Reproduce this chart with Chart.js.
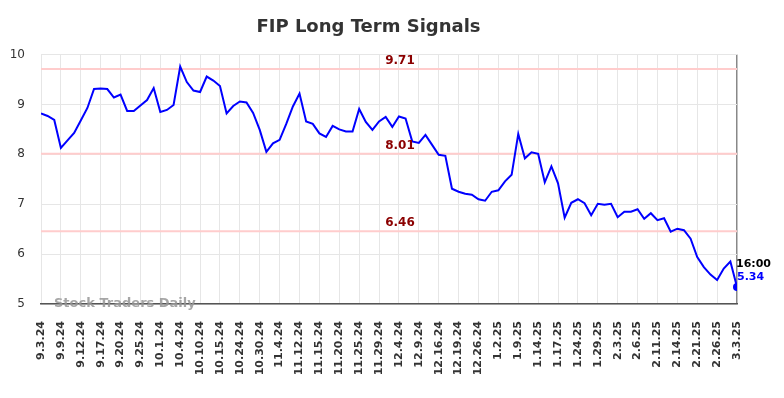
<!DOCTYPE html>
<html>
<head>
<meta charset="utf-8">
<script src="https://cdn.jsdelivr.net/npm/chart.js@4.4.1/dist/chart.umd.min.js"></script>
<style>
    body { margin: 0; background: #ffffff; }
    #wrap { width: 784px; height: 398px; }
</style>
</head>
<body>
<div id="wrap"><canvas id="signal-chart" width="784" height="398"></canvas></div>
<script>
// tick labels, one every third point
const tickLabels = [
    "9.3.24", "9.9.24", "9.12.24", "9.17.24", "9.20.24", "9.25.24",
    "10.1.24", "10.4.24", "10.10.24", "10.15.24", "10.24.24", "10.30.24",
    "11.4.24", "11.12.24", "11.15.24", "11.20.24", "11.25.24", "11.29.24",
    "12.4.24", "12.9.24", "12.16.24", "12.19.24", "12.26.24",
    "1.2.25", "1.9.25", "1.14.25", "1.17.25", "1.24.25", "1.29.25",
    "2.3.25", "2.6.25", "2.11.25", "2.14.25", "2.21.25", "2.26.25",
    "3.3.25"
];
const pointsPerTick = 3;

// price series
const signalValues = [
    8.82, 8.77, 8.69, 8.13, 8.28, 8.43, 8.68, 8.93, 9.31, 9.32,
    9.31, 9.14, 9.20, 8.87, 8.87, 8.98, 9.09, 9.33, 8.85, 8.89,
    8.99, 9.76, 9.45, 9.28, 9.25, 9.56, 9.48, 9.37, 8.82, 8.97,
    9.06, 9.04, 8.83, 8.49, 8.05, 8.22, 8.29, 8.61, 8.96, 9.22,
    8.66, 8.61, 8.42, 8.35, 8.57, 8.50, 8.46, 8.46, 8.91, 8.65,
    8.49, 8.66, 8.75, 8.55, 8.76, 8.72, 8.26, 8.23, 8.39, 8.19,
    7.99, 7.97, 7.31, 7.25, 7.21, 7.19, 7.10, 7.07, 7.25, 7.28,
    7.46, 7.59, 8.41, 7.92, 8.04, 8.01, 7.44, 7.76, 7.42, 6.73,
    7.03, 7.10, 7.02, 6.78, 7.01, 6.99, 7.01, 6.74, 6.85, 6.85,
    6.90, 6.71, 6.82, 6.68, 6.72, 6.45, 6.51, 6.48, 6.31, 5.94,
    5.74, 5.59, 5.48, 5.71, 5.85, 5.34
];

// signal levels
const levelValues = [9.71, 8.01, 6.46];

const lastTime = "16:00";
const yTicks = [5, 6, 7, 8, 9, 10];

let last_index = signalValues.length - 1;
let font_family = "'DejaVu Sans', sans-serif";

let signalData = signalValues.map((v, i) => ({ x: i, y: v }));

let levelSets = levelValues.map((lv) => ({
    data: [{ x: 0, y: lv }, { x: last_index, y: lv }],
    borderColor: "#ffcccc",
    borderWidth: 2,
    pointRadius: 0,
    order: 2
}));

const labelPlugin = {
    id: "labels",
    afterDraw(chart) {
        const ctx = chart.ctx;
        const xs = chart.scales.x;
        const ys = chart.scales.y;
        const area = chart.chartArea;

        ctx.save();
        // level labels
        ctx.font = "bold 12px " + font_family;
        ctx.fillStyle = "#8b0000";
        ctx.textAlign = "center";
        ctx.textBaseline = "middle";
        let mid = (area.left + area.right) / 2 + 11;
        for (let lv of levelValues) {
            ctx.fillText(lv.toFixed(2), mid, ys.getPixelForValue(lv) - 8);
        }

        // last point labels
        let px = xs.getPixelForValue(last_index);
        let py = ys.getPixelForValue(signalValues[last_index]);
        ctx.textAlign = "left";
        ctx.font = "bold 11px " + font_family;
        ctx.fillStyle = "#000000";
        ctx.fillText(lastTime, px - 1, py - 23);
        ctx.fillStyle = "#0000ff";
        ctx.fillText(signalValues[last_index].toFixed(2), px, py - 10);

        // watermark
        ctx.font = "bold 13px " + font_family;
        ctx.fillStyle = "rgba(150, 150, 150, 0.85)";
        ctx.fillText("Stock Traders Daily", area.left + 13, area.bottom);
        ctx.restore();
    }
};

const chart = new Chart(document.getElementById("signal-chart").getContext("2d"), {
    type: "line",
    data: {
        datasets: [{
            data: signalData,
            borderColor: "#0000ff",
            borderWidth: 2,
            tension: 0,
            pointRadius: (c) => (c.dataIndex === last_index ? 4 : 0),
            pointBackgroundColor: "#0000ff",
            pointBorderWidth: 0,
            order: 1
        }].concat(levelSets)
    },
    options: {
        responsive: false,
        animation: false,
        layout: { padding: { left: 0, right: 47, top: 0, bottom: 0 } },
        plugins: {
            legend: { display: false },
            tooltip: { enabled: false },
            title: {
                display: true,
                text: "FIP Long Term Signals",
                color: "#333333",
                font: { family: font_family, size: 18, weight: "bold" },
                padding: { top: 17, bottom: 16 }
            }
        },
        scales: {
            x: {
                type: "linear",
                min: 0,
                max: last_index,
                afterFit(scale) { scale.height = 94; },
                grid: {
                    drawTicks: false,
                    color: (c) => (c.tick && c.tick.value === last_index ? "#888888" : "#e6e6e6"),
                    lineWidth: (c) => (c.tick && c.tick.value === last_index ? 1.5 : 1)
                },
                border: { display: true, color: "#555555", width: 1.5 },
                ticks: {
                    stepSize: pointsPerTick,
                    autoSkip: false,
                    maxTicksLimit: 200,
                    minRotation: 90,
                    maxRotation: 90,
                    padding: 17,
                    color: "#333333",
                    font: { family: font_family, size: 11, weight: "bold" },
                    callback: (v) => tickLabels[v / pointsPerTick]
                }
            },
            y: {
                min: 5,
                max: 10,
                afterFit(scale) { scale.width = 41; },
                afterBuildTicks(scale) { scale.ticks = yTicks.map((v) => ({ value: v })); },
                grid: { drawTicks: false, color: "#e6e6e6" },
                border: { display: false },
                ticks: {
                    padding: 16,
                    color: "#333333",
                    font: { family: font_family, size: 12 }
                }
            }
        }
    },
    plugins: [labelPlugin]
});
</script>
</body>
</html>
